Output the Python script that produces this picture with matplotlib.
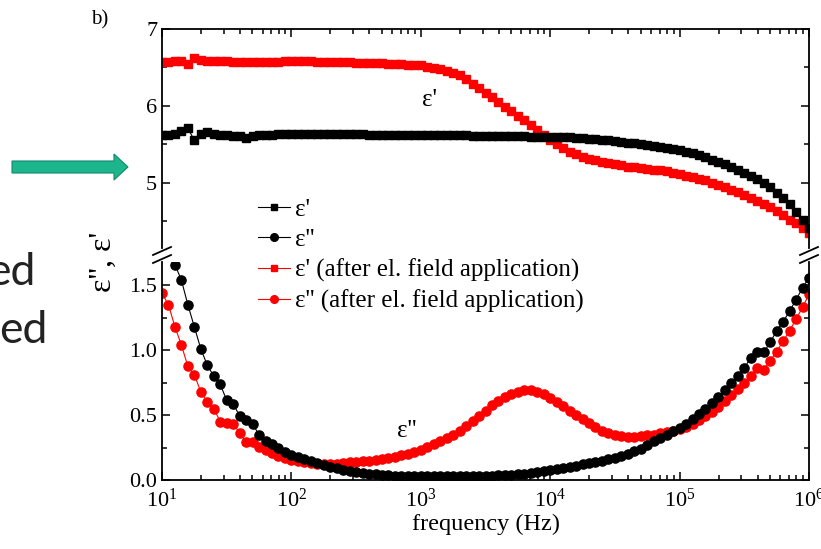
import numpy as np
import matplotlib
matplotlib.use("Agg")
import matplotlib.pyplot as plt
from matplotlib.ticker import MultipleLocator, FormatStrFormatter, LogLocator, LogFormatterMathtext
from matplotlib.lines import Line2D
from matplotlib.patches import FancyArrow

plt.rcParams['font.family'] = ['Liberation Serif', 'DejaVu Serif']
plt.rcParams['mathtext.fontset'] = 'custom'
plt.rcParams['mathtext.rm'] = 'Liberation Serif'

# measurement grid: 20 points per decade, 10 Hz .. 1 MHz
freq = np.logspace(1, 6, 101)

# eps' before (black squares)
eps1_before = [
    5.62, 5.62, 5.64, 5.67, 5.71, 5.55, 5.64, 5.665, 5.63, 5.62,
    5.62, 5.61, 5.61, 5.58, 5.61, 5.62, 5.625, 5.625, 5.63, 5.63,
    5.635, 5.635, 5.635, 5.635, 5.635, 5.635, 5.63, 5.63, 5.63, 5.63,
    5.63, 5.63, 5.625, 5.625, 5.625, 5.625, 5.625, 5.62, 5.62, 5.62,
    5.62, 5.62, 5.62, 5.62, 5.615, 5.615, 5.615, 5.615, 5.61, 5.61,
    5.61, 5.61, 5.61, 5.605, 5.605, 5.605, 5.605, 5.60, 5.60, 5.60,
    5.60, 5.595, 5.59, 5.59, 5.585, 5.58, 5.575, 5.565, 5.555, 5.55,
    5.54, 5.53, 5.52, 5.51, 5.50, 5.49, 5.48, 5.47, 5.455, 5.44,
    5.42, 5.40, 5.38, 5.355, 5.33, 5.30, 5.27, 5.24, 5.21, 5.17,
    5.13, 5.09, 5.05, 5.00, 4.94, 4.87, 4.80, 4.72, 4.62, 4.52,
    4.41]

# eps' after el. field application (red squares)
eps1_after = [
    6.57, 6.575, 6.58, 6.58, 6.55, 6.62, 6.60, 6.59, 6.585, 6.58,
    6.585, 6.565, 6.57, 6.565, 6.57, 6.57, 6.57, 6.575, 6.575, 6.58,
    6.585, 6.585, 6.58, 6.58, 6.575, 6.575, 6.57, 6.57, 6.565, 6.565,
    6.56, 6.56, 6.56, 6.555, 6.555, 6.55, 6.545, 6.54, 6.535, 6.53,
    6.525, 6.51, 6.495, 6.475, 6.455, 6.43, 6.40, 6.35, 6.29, 6.23,
    6.17, 6.11, 6.05, 5.99, 5.93, 5.87, 5.81, 5.75, 5.68, 5.62,
    5.56, 5.50, 5.45, 5.40, 5.37, 5.34, 5.31, 5.29, 5.27, 5.255,
    5.24, 5.225, 5.21, 5.20, 5.19, 5.18, 5.17, 5.16, 5.15, 5.13,
    5.11, 5.09, 5.07, 5.05, 5.03, 5.00, 4.97, 4.94, 4.91, 4.88,
    4.84, 4.80, 4.76, 4.72, 4.68, 4.63, 4.58, 4.52, 4.47, 4.41,
    4.34]

# eps'' before (black circles), first two points are off scale
eps2_before = [
    np.nan, np.nan, 1.66, 1.54, 1.35, 1.18, 1.01, 0.885, 0.80, 0.736,
    0.615, 0.585, 0.495, 0.46, 0.43, 0.35, 0.30, 0.274, 0.244, 0.218,
    0.192, 0.175, 0.16, 0.145, 0.13, 0.115, 0.10, 0.09, 0.08, 0.07,
    0.062, 0.055, 0.05, 0.045, 0.04, 0.037, 0.034, 0.032, 0.03, 0.029,
    0.028, 0.027, 0.027, 0.027, 0.027, 0.028, 0.028, 0.029, 0.03, 0.031,
    0.032, 0.034, 0.036, 0.039, 0.042, 0.046, 0.05, 0.055, 0.06, 0.066,
    0.075, 0.082, 0.09, 0.10, 0.11, 0.12, 0.13, 0.14, 0.15, 0.16,
    0.172, 0.185, 0.203, 0.223, 0.242, 0.268, 0.297, 0.322, 0.348, 0.375,
    0.40, 0.435, 0.47, 0.51, 0.55, 0.59, 0.64, 0.69, 0.75, 0.805,
    0.865, 0.94, 0.99, 0.985, 1.06, 1.15, 1.22, 1.30, 1.39, 1.48,
    1.56]

# eps'' after el. field application (red circles)
eps2_after = [
    1.44, 1.35, 1.18, 1.04, 0.875, 0.81, 0.68, 0.60, 0.55, 0.45,
    0.44, 0.43, 0.365, 0.29, 0.295, 0.255, 0.23, 0.21, 0.185, 0.17,
    0.155, 0.145, 0.135, 0.13, 0.125, 0.125, 0.125, 0.125, 0.13, 0.135,
    0.14, 0.145, 0.15, 0.155, 0.16, 0.168, 0.178, 0.19, 0.203, 0.218,
    0.235, 0.255, 0.275, 0.30, 0.325, 0.35, 0.38, 0.415, 0.455, 0.495,
    0.535, 0.575, 0.61, 0.64, 0.665, 0.68, 0.69, 0.69, 0.68, 0.66,
    0.63, 0.60, 0.57, 0.535, 0.50, 0.47, 0.44, 0.41, 0.38, 0.36,
    0.345, 0.34, 0.335, 0.335, 0.34, 0.345, 0.35, 0.36, 0.37, 0.38,
    0.39, 0.41, 0.435, 0.46, 0.49, 0.525, 0.565, 0.61, 0.655, 0.70,
    0.745, 0.80, 0.86, 0.85, 0.92, 0.99, 1.07, 1.15, 1.24, 1.33,
    1.43]

labels = ["ε'", "ε''", "ε' (after el. field application)", "ε'' (after el. field application)"]

W, H = 821, 549
fig = plt.figure(figsize=(W / 100, H / 100), dpi=100)

def fx(px):
    return px / W

def fy(py):
    return 1 - py / H

ax_top = fig.add_axes([fx(162), fy(248), fx(809) - fx(162), fy(29) - fy(248)])
ax_bot = fig.add_axes([fx(162), fy(480), fx(809) - fx(162), fy(262) - fy(480)])

red = '#ff0000'
ms_sq = 6.0
ms_ci = 6.6

ax_top.plot(freq, eps1_after, '-s', color=red, ms=ms_sq, lw=0.8, mec=red)
ax_top.plot(freq, eps1_before, '-s', color='black', ms=ms_sq, lw=0.8, mec='black')
ax_bot.plot(freq, eps2_after, '-o', color=red, ms=ms_ci, lw=0.8, mec=red)
ax_bot.plot(freq, eps2_before, '-o', color='black', ms=ms_ci, lw=0.8, mec='black')

for ax in (ax_top, ax_bot):
    ax.set_xscale('log')
    ax.set_xlim(10, 1e6)
    ax.xaxis.set_major_locator(LogLocator(base=10, numticks=10))
    ax.xaxis.set_minor_locator(LogLocator(base=10, subs=np.arange(2, 10), numticks=20))
    for s in ax.spines.values():
        s.set_linewidth(1.3)
    ax.tick_params(which='both', direction='in', width=1.1, labelsize=16)
    ax.tick_params(which='major', length=6)
    ax.tick_params(which='minor', length=3.5)
    ax.patch.set_alpha(0)

ax_top.set_ylim(4.15, 7)
ax_top.set_yticks([5, 6, 7])
ax_top.yaxis.set_minor_locator(MultipleLocator(0.5))
ax_top.spines['bottom'].set_visible(False)
ax_top.tick_params(axis='x', which='both', top=True, bottom=False, labelbottom=False)
ax_top.tick_params(axis='y', which='both', left=True, right=True)

ax_bot.set_ylim(0, 1.68)
ax_bot.set_yticks([0, 0.5, 1.0, 1.5])
ax_bot.yaxis.set_major_formatter(FormatStrFormatter('%.1f'))
ax_bot.yaxis.set_minor_locator(MultipleLocator(0.25))
ax_bot.spines['top'].set_visible(False)
ax_bot.tick_params(axis='x', which='both', top=False, bottom=True, pad=6)
ax_bot.tick_params(axis='y', which='both', left=True, right=True)
ax_bot.xaxis.set_major_formatter(LogFormatterMathtext())
ax_bot.set_xlabel('frequency (Hz)', fontsize=17.5, labelpad=2)

# axis break marks
for xc in (162, 809):
    for yc in (251, 259):
        fig.add_artist(Line2D([fx(xc - 9), fx(xc + 9)], [fy(yc + 4), fy(yc - 4)],
                              color='black', lw=1.3))

ax_top.text(1170, 6.08, "ε'", fontsize=18, ha='center', va='center')
ax_bot.text(780, 0.38, "ε''", fontsize=18, ha='center', va='center')

fig.text(fx(100), fy(20), 'b)', fontsize=15, ha='center', va='center')
fig.text(fx(103), fy(262), "ε'', ε'", fontsize=23, rotation=90, ha='center', va='center')

handles = [
    Line2D([], [], color='black', marker='s', ms=5, lw=0.8),
    Line2D([], [], color='black', marker='o', ms=5.5, lw=0.8),
    Line2D([], [], color=red, marker='s', ms=5, lw=0.8),
    Line2D([], [], color=red, marker='o', ms=5.5, lw=0.8),
]
fig.legend(handles, labels, loc='upper left', bbox_to_anchor=(fx(245), fy(186)),
           frameon=False, fontsize=18, handlelength=1.3, handletextpad=0.2,
           labelspacing=0.3, borderpad=0)

# pieces of the surrounding slide
fig.add_artist(FancyArrow(0.12, (H - 167) / 100, 1.02, 0, width=0.12,
                          head_width=0.26, head_length=0.14,
                          length_includes_head=False, transform=fig.dpi_scale_trans,
                          facecolor='#1db58c', edgecolor='#128a6a', lw=0.8))
fig.text(fx(35), fy(285), 'ed', fontsize=32, family=['Lato', 'DejaVu Sans'],
         ha='right', va='baseline', color='#222222')
fig.text(fx(47), fy(343), 'ed', fontsize=32, family=['Lato', 'DejaVu Sans'],
         ha='right', va='baseline', color='#222222')

fig.savefig('out.png', dpi=100)
